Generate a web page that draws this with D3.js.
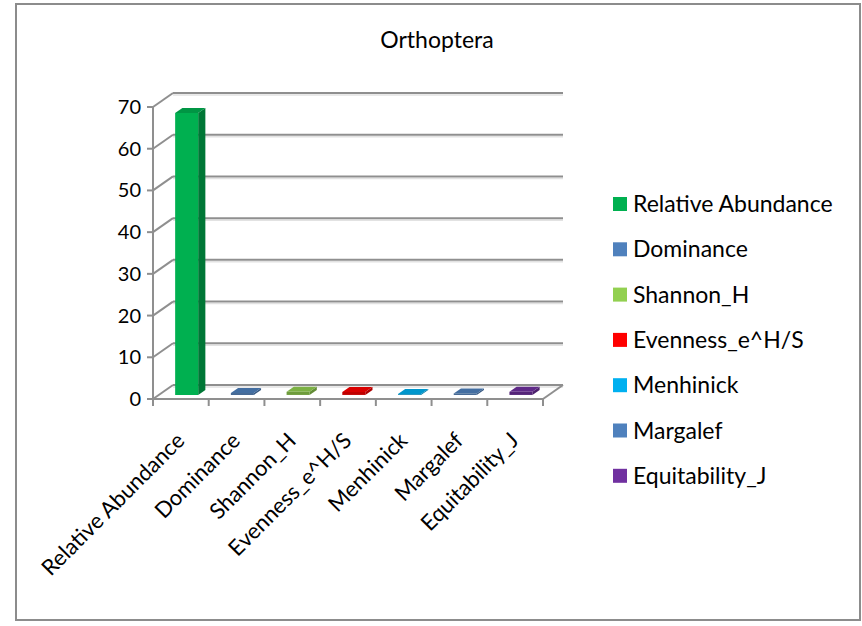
<!DOCTYPE html>
<meta charset="utf-8">
<script src="https://d3js.org/d3.v7.min.js"></script>
<style>
  body { margin: 0; background: #fff; }
  text { font-family: Lato, "Open Sans", sans-serif; fill: #000; }
</style>
<div id="my_viz"></div>
<script>

// data
var categories = ["Relative Abundance", "Dominance", "Shannon_H", "Evenness_e^H/S", "Menhinick", "Margalef", "Equitability_J"]
var values = [67.6, 0.45, 0.75, 0.7, 0.2, 0.35, 0.75]
var colors = ["#00B050", "#4F81BD", "#92D050", "#FF0000", "#00B0F0", "#4F81BD", "#7030A0"]
var yTicks = [0, 10, 20, 30, 40, 50, 60, 70]

var W = 862, H = 626
// depth of the 3d box (back plane offset)
var depthX = 20, depthY = -14
var barZ0 = 0.29, barZ1 = 0.65

var svg = d3.select("#my_viz")
  .append("svg")
    .attr("width", W)
    .attr("height", H)

// outer frame
svg.append("rect")
  .attr("x", 16).attr("y", 4)
  .attr("width", 844).attr("height", 616)
  .attr("fill", "white")
  .attr("stroke", "#8c8c8c")
  .attr("stroke-width", 2)

// title
svg.append("text")
  .attr("x", 437).attr("y", 48)
  .attr("text-anchor", "middle")
  .style("font-size", "23px")
  .text("Orthoptera")

var x = d3.scaleBand()
  .domain(categories)
  .range([153, 543])
  .paddingInner(0.587)
  .paddingOuter(0.2935)

var y = d3.scaleLinear()
  .domain([0, 70])
  .range([399, 107])

function px(xv, z) { return xv + z * depthX }
function py(yv, z) { return yv + z * depthY }

var grid = svg.append("g")
  .attr("stroke", "#8f8f8f")
  .attr("stroke-width", 2)
  .attr("fill", "none")

// back wall gridlines (with a light shadow under them)
grid.selectAll(".shadow")
  .data(yTicks)
  .enter()
  .append("line")
    .attr("x1", px(153, 1)).attr("x2", px(543, 1))
    .attr("y1", function(d) { return py(y(d), 1) + 2 })
    .attr("y2", function(d) { return py(y(d), 1) + 2 })
    .attr("stroke", "#e2e2e2")
    .attr("stroke-width", 1.5)

grid.selectAll(".gl")
  .data(yTicks)
  .enter()
  .append("line")
    .attr("x1", px(153, 1)).attr("x2", px(543, 1))
    .attr("y1", function(d) { return py(y(d), 1) })
    .attr("y2", function(d) { return py(y(d), 1) })

// side wall diagonals
grid.selectAll(".diag")
  .data(yTicks)
  .enter()
  .append("line")
    .attr("x1", 153).attr("y1", function(d) { return y(d) })
    .attr("x2", px(153, 1)).attr("y2", function(d) { return py(y(d), 1) })

// y axis ticks
grid.selectAll(".ytick")
  .data(yTicks)
  .enter()
  .append("line")
    .attr("x1", 147).attr("x2", 153)
    .attr("y1", function(d) { return y(d) })
    .attr("y2", function(d) { return y(d) })

// front axis line
grid.append("line")
  .attr("x1", 153).attr("x2", 153)
  .attr("y1", y(70)).attr("y2", y(0))

// floor
grid.append("line")
  .attr("x1", 153).attr("x2", 543)
  .attr("y1", y(0)).attr("y2", y(0))
grid.append("line")
  .attr("x1", 543).attr("y1", y(0))
  .attr("x2", px(543, 1)).attr("y2", py(y(0), 1))

// category ticks
var bounds = categories.map(function(c) { return x(c) - x.step() * x.paddingInner() / 2 })
bounds.push(543)
grid.selectAll(".xtick")
  .data(bounds)
  .enter()
  .append("line")
    .attr("x1", function(d) { return d }).attr("x2", function(d) { return d })
    .attr("y1", y(0)).attr("y2", y(0) + 7)

// y tick labels
svg.selectAll(".ylab")
  .data(yTicks)
  .enter()
  .append("text")
    .attr("x", 141)
    .attr("y", function(d) { return y(d) + 7 })
    .attr("text-anchor", "end")
    .style("font-size", "20px")
    .text(function(d) { return d })

// bars as 3d boxes
var data = categories.map(function(c, i) { return {name: c, value: values[i], color: colors[i]} })

var bars = svg.append("g").selectAll("g")
  .data(data)
  .enter()
  .append("g")

function pts(arr) { return arr.map(function(p) { return p.join(",") }).join(" ") }

bars.append("polygon")  // side
  .attr("points", function(d) {
    var x1 = x(d.name) + x.bandwidth(), y0 = y(0), y1 = y(d.value)
    return pts([[px(x1, barZ0), py(y0, barZ0)], [px(x1, barZ1), py(y0, barZ1)],
                [px(x1, barZ1), py(y1, barZ1)], [px(x1, barZ0), py(y1, barZ0)]])
  })
  .attr("fill", function(d) { return d3.color(d.color).darker(1.1) })

bars.append("polygon")  // top
  .attr("points", function(d) {
    var x0 = x(d.name), x1 = x0 + x.bandwidth(), y1 = y(d.value)
    return pts([[px(x0, barZ0), py(y1, barZ0)], [px(x0, barZ1), py(y1, barZ1)],
                [px(x1, barZ1), py(y1, barZ1)], [px(x1, barZ0), py(y1, barZ0)]])
  })
  .attr("fill", function(d) { return d3.color(d.color).darker(0.45) })

bars.append("polygon")  // front
  .attr("points", function(d) {
    var x0 = x(d.name), x1 = x0 + x.bandwidth(), y0 = y(0), y1 = y(d.value)
    return pts([[px(x0, barZ0), py(y0, barZ0)], [px(x1, barZ0), py(y0, barZ0)],
                [px(x1, barZ0), py(y1, barZ0)], [px(x0, barZ0), py(y1, barZ0)]])
  })
  .attr("fill", function(d) { return d.value > 5 ? d.color : d3.color(d.color).darker(0.8) })

// category labels
svg.selectAll(".xlab")
  .data(categories)
  .enter()
  .append("text")
    .attr("transform", function(d) {
      return "translate(" + (x(d) + x.bandwidth() / 2 + 5) + "," + 442 + ") rotate(-45)"
    })
    .attr("text-anchor", "end")
    .style("font-size", "22px")
    .text(function(d) { return d })

// legend
var legend = svg.append("g").selectAll("g")
  .data(data)
  .enter()
  .append("g")
    .attr("transform", function(d, i) { return "translate(613," + (204 + i * 45.3) + ")" })

legend.append("rect")
  .attr("x", 0).attr("y", -7)
  .attr("width", 14).attr("height", 14)
  .attr("fill", function(d) { return d.color })

legend.append("text")
  .attr("x", 20).attr("y", 8)
  .style("font-size", "23px")
  .text(function(d) { return d.name })

</script>
